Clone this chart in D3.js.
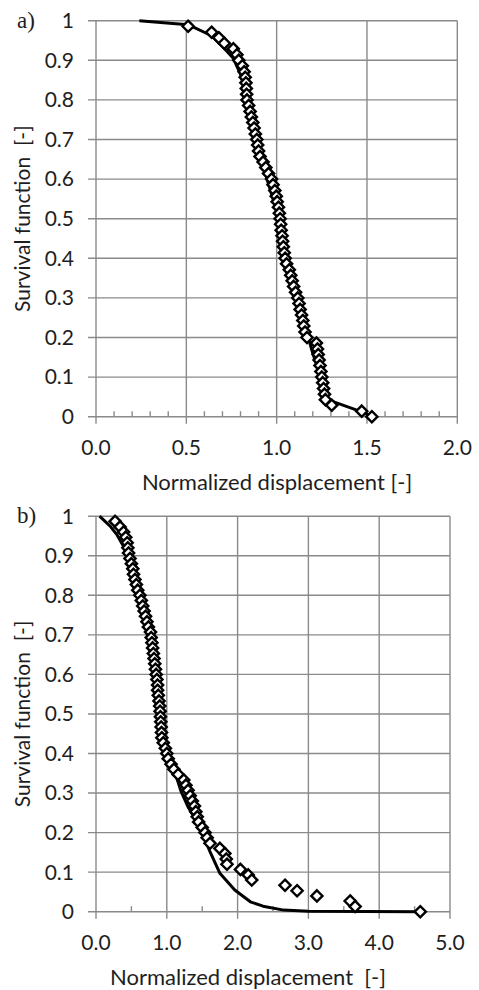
<!DOCTYPE html>
<html lang="en">
<head>
<meta charset="utf-8">
<style>
  body { margin: 0; background: #fff; }
  text { font-family: Lato, "Open Sans", sans-serif; fill: #1e1e1e; }
</style>
</head>
<body>
<script src="https://d3js.org/d3.v7.min.js"></script>
<script>
// ---- panel a) data ----
var aSurv = [0.986, 0.971, 0.957, 0.943, 0.929, 0.914, 0.900, 0.886, 0.871, 0.857,
             0.843, 0.829, 0.814, 0.800, 0.786, 0.771, 0.757, 0.743, 0.729, 0.714,
             0.700, 0.686, 0.671, 0.657, 0.643, 0.629, 0.614, 0.600, 0.586, 0.571,
             0.557, 0.543, 0.529, 0.514, 0.500, 0.486, 0.471, 0.457, 0.443, 0.429,
             0.414, 0.400, 0.386, 0.371, 0.357, 0.343, 0.329, 0.314, 0.300, 0.286,
             0.271, 0.257, 0.243, 0.229, 0.214, 0.200, 0.186, 0.171, 0.157, 0.143,
             0.129, 0.114, 0.100, 0.086, 0.071, 0.057, 0.043, 0.029, 0.014, 0.000];
var aDisp = [0.51, 0.64, 0.68, 0.71, 0.76, 0.78, 0.79, 0.81, 0.82, 0.826,
             0.83, 0.832, 0.834, 0.836, 0.845, 0.853, 0.86, 0.868, 0.875, 0.882,
             0.89, 0.895, 0.90, 0.908, 0.925, 0.94, 0.955, 0.972, 0.98, 0.99,
             0.998, 1.003, 1.01, 1.015, 1.019, 1.022, 1.025, 1.03, 1.033, 1.037,
             1.042, 1.047, 1.055, 1.07, 1.078, 1.086, 1.094, 1.105, 1.117, 1.124,
             1.13, 1.138, 1.145, 1.15, 1.157, 1.168, 1.22, 1.226, 1.23, 1.235,
             1.24, 1.245, 1.25, 1.255, 1.26, 1.265, 1.27, 1.305, 1.471, 1.527];
var aFitX = [0.24, 0.51, 0.64, 0.70, 0.76, 0.80, 0.83, 0.86, 0.90, 0.95, 1.0, 1.05,
             1.1, 1.15, 1.2, 1.25, 1.27, 1.471, 1.527];
var aFitY = [1.0, 0.99, 0.962, 0.935, 0.905, 0.865, 0.815, 0.755, 0.675, 0.595, 0.52, 0.41,
             0.32, 0.24, 0.16, 0.09, 0.045, 0.012, 0.0];

// ---- panel b) data ----
var bSurv = [0.987, 0.973, 0.960, 0.947, 0.933, 0.920, 0.907, 0.893, 0.880, 0.867,
             0.853, 0.840, 0.827, 0.813, 0.800, 0.787, 0.773, 0.760, 0.747, 0.733,
             0.720, 0.707, 0.693, 0.680, 0.667, 0.653, 0.640, 0.627, 0.613, 0.600,
             0.587, 0.573, 0.560, 0.547, 0.533, 0.520, 0.507, 0.493, 0.480, 0.467,
             0.453, 0.440, 0.427, 0.413, 0.400, 0.387, 0.373, 0.360, 0.347, 0.333,
             0.320, 0.307, 0.293, 0.280, 0.267, 0.253, 0.240, 0.227, 0.213, 0.200,
             0.187, 0.173, 0.160, 0.147, 0.133, 0.120, 0.107, 0.093, 0.080, 0.067,
             0.053, 0.040, 0.027, 0.013, 0.000];
var bDisp = [0.27, 0.34, 0.39, 0.42, 0.44, 0.45, 0.46, 0.48, 0.50, 0.52,
             0.53, 0.55, 0.57, 0.59, 0.62, 0.64, 0.66, 0.68, 0.70, 0.72,
             0.74, 0.77, 0.78, 0.79, 0.80, 0.81, 0.82, 0.83, 0.84, 0.85,
             0.86, 0.87, 0.87, 0.88, 0.89, 0.90, 0.905, 0.91, 0.915, 0.92,
             0.925, 0.93, 0.95, 0.98, 1.0, 1.02, 1.06, 1.10, 1.16, 1.24,
             1.27, 1.30, 1.33, 1.36, 1.39, 1.41, 1.43, 1.45, 1.50, 1.54,
             1.57, 1.61, 1.75, 1.82, 1.84, 1.85, 2.04, 2.15, 2.20, 2.67,
             2.84, 3.12, 3.59, 3.66, 4.58];
var bFitX = [0.05, 0.2, 0.3, 0.4, 0.5, 0.6, 0.7, 0.8, 0.9, 1.0, 1.1, 1.2, 1.3, 1.4,
             1.47, 1.61, 1.75, 1.96, 2.18, 2.36, 2.65, 3.0, 4.58];
var bFitY = [1.0, 0.975, 0.952, 0.92, 0.86, 0.79, 0.72, 0.64, 0.53, 0.41, 0.36, 0.305, 0.265, 0.235,
             0.215, 0.152, 0.097, 0.055, 0.025, 0.014, 0.004, 0.001, 0.0];

// ---- ticks ----
var survTicks = [0, 0.1, 0.2, 0.3, 0.4, 0.5, 0.6, 0.7, 0.8, 0.9, 1];
var aDispTicks = [0, 0.5, 1, 1.5, 2];
var aDispMinor = [0.1, 0.2, 0.3, 0.4, 0.6, 0.7, 0.8, 0.9, 1.1, 1.2, 1.3, 1.4, 1.6, 1.7, 1.8, 1.9];
var bDispTicks = [0, 1, 2, 3, 4, 5];
var bDispMinor = [0.5, 1.5, 2.5, 3.5, 4.5];

var W = 479, H = 990;
var gridColor = "#8a8a8a";

var svg = d3.select("body").append("svg")
    .attr("width", W)
    .attr("height", H);

function panel(cfg) {
    var x = d3.scaleLinear().domain(cfg.xDomain).range([96, cfg.xRight]);
    var y = d3.scaleLinear().domain([0, 1]).range([cfg.yBottom, cfg.yTop]);
    var g = svg.append("g");

    // horizontal gridlines (with outer tick stub)
    g.append("g").selectAll("line")
        .data(survTicks)
        .enter().append("line")
        .attr("x1", 88).attr("x2", x.range()[1])
        .attr("y1", function (d) { return y(d); })
        .attr("y2", function (d) { return y(d); })
        .attr("stroke", gridColor).attr("stroke-width", 1.4);

    // vertical gridlines + major ticks
    g.append("g").selectAll("line")
        .data(cfg.xTicks)
        .enter().append("line")
        .attr("x1", function (d) { return x(d); })
        .attr("x2", function (d) { return x(d); })
        .attr("y1", y(1)).attr("y2", y(0) + 7)
        .attr("stroke", gridColor).attr("stroke-width", 1.4);

    // minor ticks, inside
    g.append("g").selectAll("line")
        .data(cfg.xMinor)
        .enter().append("line")
        .attr("x1", function (d) { return x(d); })
        .attr("x2", function (d) { return x(d); })
        .attr("y1", y(0) - 5.5).attr("y2", y(0))
        .attr("stroke", gridColor).attr("stroke-width", 1.4);

    // y tick labels
    g.append("g").selectAll("text")
        .data(survTicks)
        .enter().append("text")
        .attr("x", 74)
        .attr("y", function (d) { return y(d); })
        .attr("dy", "0.35em")
        .attr("text-anchor", "end")
        .style("font-size", "21px")
        .text(function (d) { return String(d); });

    // x tick labels
    g.append("g").selectAll("text")
        .data(cfg.xTicks)
        .enter().append("text")
        .attr("x", function (d) { return x(d); })
        .attr("y", y(0) + 31)
        .attr("dy", "0.35em")
        .attr("text-anchor", "middle")
        .style("font-size", "21px")
        .text(d3.format(".1f"));

    // fitted curve
    var line = d3.line()
        .x(function (d) { return x(d[0]); })
        .y(function (d) { return y(d[1]); });
    g.append("path")
        .datum(d3.zip(cfg.fitX, cfg.fitY))
        .attr("d", line)
        .attr("fill", "none")
        .attr("stroke", "#000")
        .attr("stroke-width", 3)
        .attr("stroke-linejoin", "round");

    // observed points as diamonds
    var r = 5.6;
    g.append("g").selectAll("path")
        .data(d3.zip(cfg.dispX, cfg.survY))
        .enter().append("path")
        .attr("transform", function (d) { return "translate(" + x(d[0]) + "," + y(d[1]) + ")"; })
        .attr("d", "M0," + (-r) + "L" + r + ",0L0," + r + "L" + (-r) + ",0Z")
        .attr("fill", "#fff")
        .attr("stroke", "#000")
        .attr("stroke-width", 2.4);

    // axis titles
    g.append("text")
        .attr("x", cfg.xTitleX)
        .attr("y", cfg.xTitleY)
        .attr("dy", "0.35em")
        .attr("text-anchor", "middle")
        .style("font-size", "22px")
        .style("white-space", "pre")
        .text(cfg.xTitle);
    g.append("text")
        .attr("transform", "translate(23," + (cfg.yTop + cfg.yBottom) / 2 + ") rotate(-90)")
        .attr("dy", "0.35em")
        .attr("text-anchor", "middle")
        .style("font-size", "21px")
        .style("white-space", "pre")
        .text("Survival function  [-]");

    // panel tag
    g.append("text")
        .attr("x", 17)
        .attr("y", cfg.yTop + 7)
        .style("font-family", "'Liberation Serif', 'Times New Roman', serif")
        .style("font-size", "23px")
        .text(cfg.tag);
}

panel({
    tag: "a)", xDomain: [0, 2], xRight: 457.3, yTop: 20.7, yBottom: 416.7,
    xTicks: aDispTicks, xMinor: aDispMinor,
    dispX: aDisp, survY: aSurv, fitX: aFitX, fitY: aFitY,
    xTitle: "Normalized displacement [-]", xTitleX: 277, xTitleY: 482
});
panel({
    tag: "b)", xDomain: [0, 5], xRight: 450, yTop: 516.2, yBottom: 911.7,
    xTicks: bDispTicks, xMinor: bDispMinor,
    dispX: bDisp, survY: bSurv, fitX: bFitX, fitY: bFitY,
    xTitle: "Normalized displacement  [-]", xTitleX: 248, xTitleY: 977
});
</script>
</body>
</html>
